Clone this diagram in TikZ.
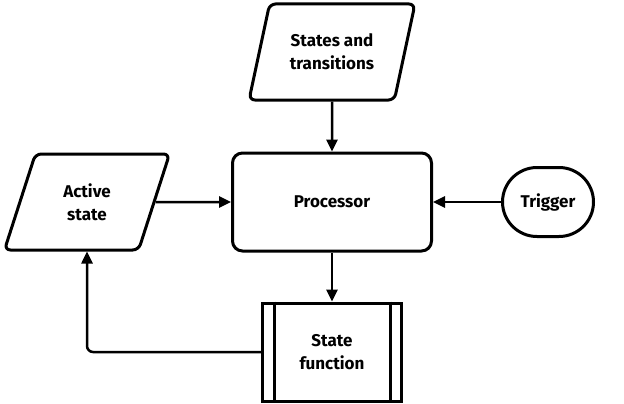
\documentclass[tikz,border=0pt]{standalone}
\usepackage{fontspec}
\setmainfont{Fira Sans}
\usetikzlibrary{shapes.geometric,shapes.misc,arrows.meta}

\begin{document}
\begin{tikzpicture}[x=1pt, y=-1pt, font=\fontsize{17}{23}\selectfont\bfseries]
  \tikzset{every node/.style={align=center, line width=3pt, draw, inner sep=0pt},
    datablock/.style={trapezium, trapezium left angle=69, trapezium right angle=111,
      trapezium stretches=true, minimum width=166, minimum height=96, rounded corners=6pt},
    procblock/.style={rectangle, rounded corners=10pt, minimum width=199, minimum height=98},
    termblock/.style={rounded rectangle, minimum width=91, minimum height=69},
    subblock/.style={rectangle, minimum width=139, minimum height=98},
    flow/.style={line width=2.5pt, -{Stealth[length=12pt, width=11pt, inset=0pt]}}}
  \useasboundingbox (0,0) rectangle (624,404);
  \node[procblock] (proc) at (332,202) {Processor};
  \node[datablock] (trans) at (332,52) {States and\\transitions};
  \node[datablock] (active) at (87,202) {Active\\state};
  \node[termblock] (trig) at (548,202) {Trigger};
  \node[subblock] (sfunc) at (332,352) {State\\function};
  \draw[line width=3pt] ([xshift=13pt]sfunc.north west) -- ([xshift=13pt]sfunc.south west);
  \draw[line width=3pt] ([xshift=-13pt]sfunc.north east) -- ([xshift=-13pt]sfunc.south east);
  % connectors
  \draw[flow] (trans) -- (proc);
  \draw[flow] (active) -- (proc);
  \draw[flow] (trig) -- (proc);
  \draw[flow] (proc) -- (sfunc);
  \draw[flow, rounded corners=6pt] (sfunc.west) -| (active.south);
\end{tikzpicture}
\end{document}
